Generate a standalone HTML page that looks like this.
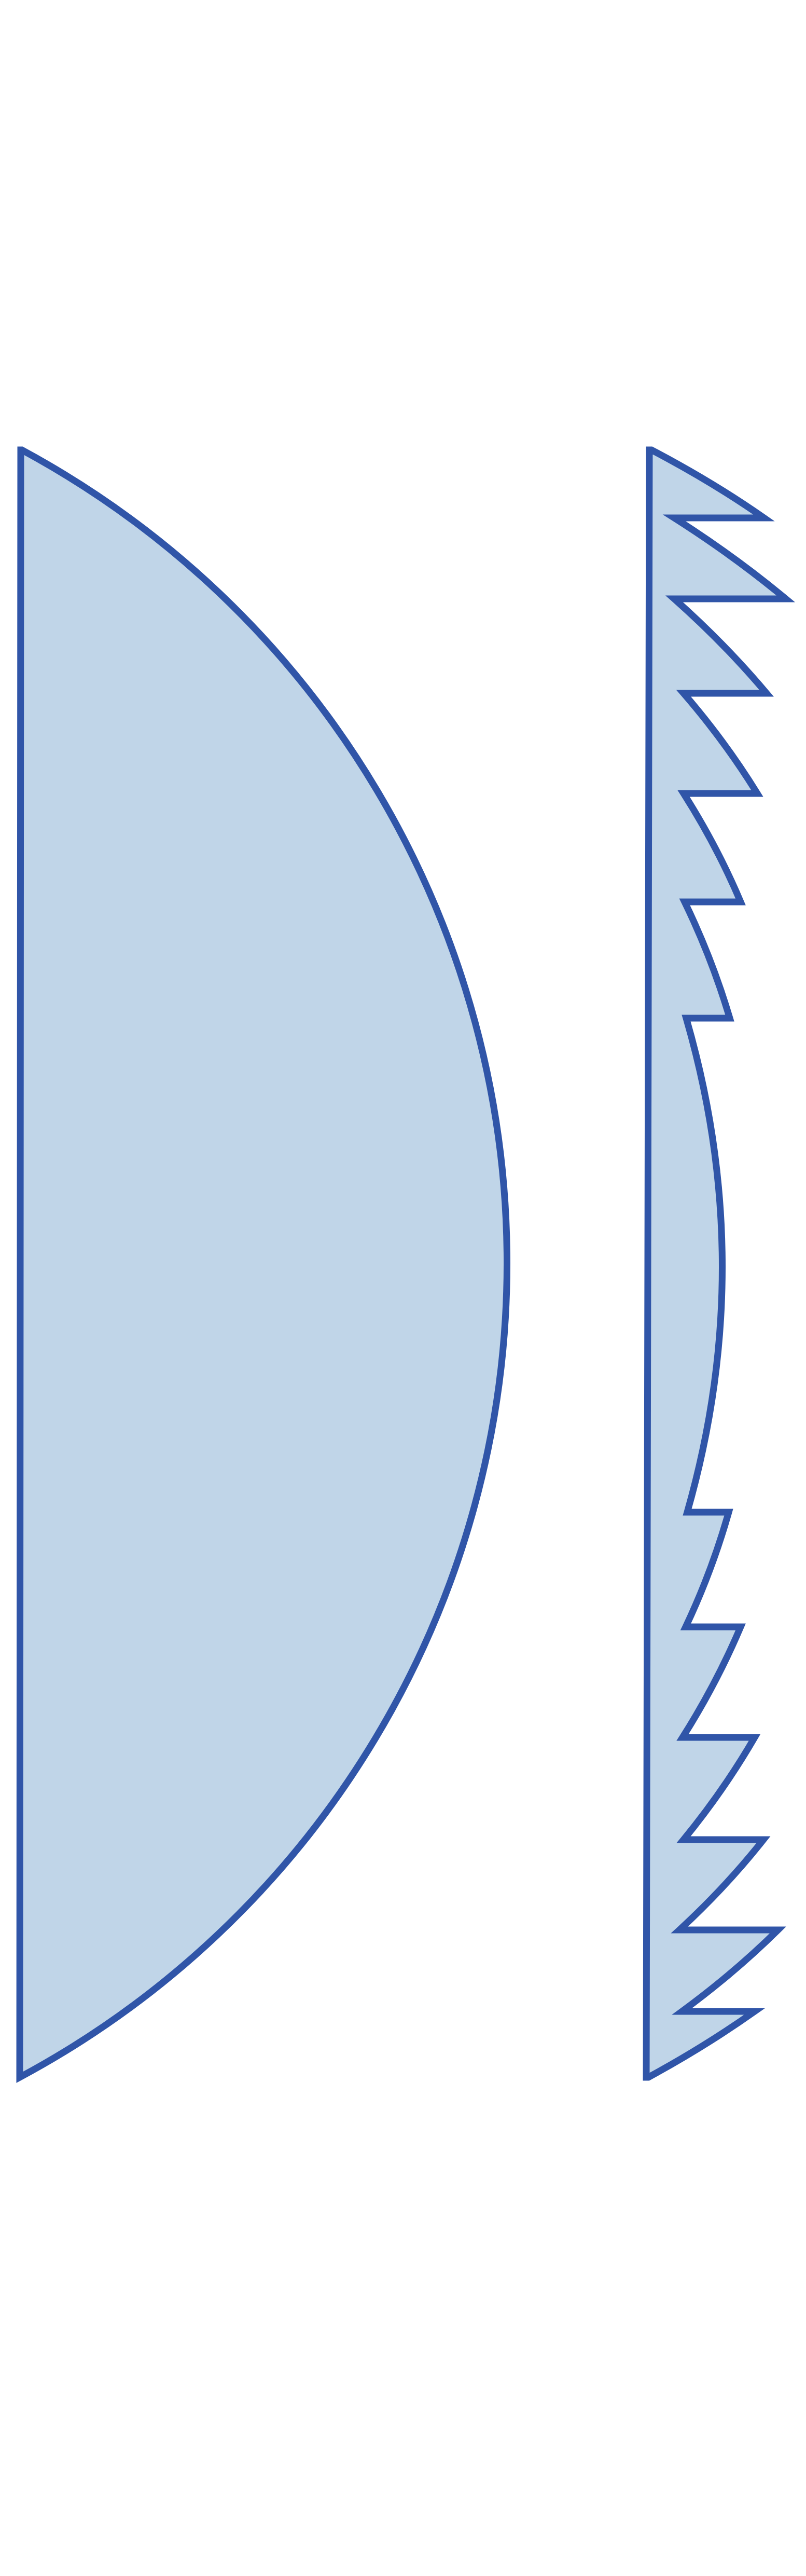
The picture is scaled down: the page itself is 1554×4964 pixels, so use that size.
<!DOCTYPE html>
<html><head><meta charset="utf-8"><style>html,body{margin:0;padding:0;background:#fff}svg{display:block}</style></head>
<body>
<svg id="chart" width="1554" height="4964" viewBox="0 0 1554 4964" xmlns="http://www.w3.org/2000/svg">
<path d="M42,867 A1780,1780 0 0 1 38,4003 L40,867 Z" fill="#c0d5e8" stroke="#3055a8" stroke-width="13" stroke-linejoin="miter"/>
<path id="fresnel" fill="#c0d5e8" stroke="#3055a8" stroke-width="13" stroke-linejoin="miter" stroke-miterlimit="10"/>
</svg>
<script>
// Fresnel tooth ledges: y position, inner x, outer x
const ledgeY = [998, 1154, 1336, 1529, 1738, 1962, 2914, 3135, 3348, 3545, 3719, 3876];
const ledgeInner = [1300, 1300, 1318, 1318, 1320, 1323, 1325, 1322, 1316, 1318, 1310, 1315];
const ledgeOuter = [1473, 1515, 1478, 1460, 1428, 1407, 1405, 1428, 1455, 1472, 1500, 1455];
const topY = 867, botY = 4003, flatTop = 1252, flatBot = 1246, centerMaxX = 1392;
let d = `M${flatTop + 4},${topY}`;
let px = flatTop + 4, py = topY;
for (let i = 0; i < ledgeY.length; i++) {
  const y = ledgeY[i];
  if (i === 6) {
    const cx = 2 * centerMaxX - px;
    d += ` Q${cx},${(py + y) / 2} ${ledgeInner[i]},${y} L${ledgeOuter[i]},${y}`;
    px = ledgeOuter[i]; py = y;
  } else if (i < 6) {
    const tx = ledgeOuter[i];
    const cx = (px + tx) / 2 + 9;
    d += ` Q${cx},${(py + y) / 2 - 4} ${tx},${y} L${ledgeInner[i]},${y}`;
    px = ledgeInner[i]; py = y;
  } else {
    const cx = (px + ledgeInner[i]) / 2 + 9;
    d += ` Q${cx},${(py + y) / 2 + 4} ${ledgeInner[i]},${y} L${ledgeOuter[i]},${y}`;
    px = ledgeOuter[i]; py = y;
  }
}
d += ` Q${(px + flatBot) / 2 + 9},${(py + botY) / 2 + 4} ${flatBot + 4},${botY} L${flatBot},${botY} L${flatTop},${topY} Z`;
document.getElementById('fresnel').setAttribute('d', d);
</script>
</body></html>
